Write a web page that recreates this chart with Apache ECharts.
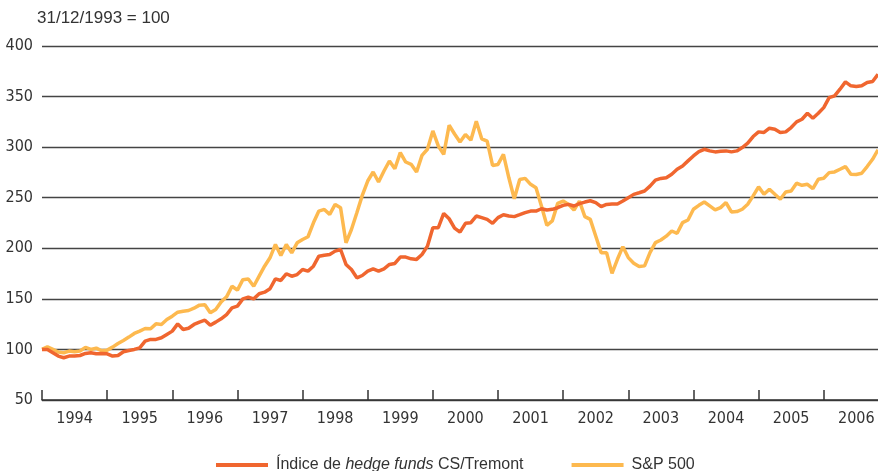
<!DOCTYPE html>
<html>
<head>
<meta charset="utf-8">
<script src="https://cdn.jsdelivr.net/npm/echarts@6/dist/echarts.min.js"></script>
<style>
html,body{margin:0;padding:0;background:#fff;}
#chart{width:878px;height:471px;}
</style>
</head>
<body>
<div id="chart"></div>
<script>
const yearLabels = ['1994','1995','1996','1997','1998','1999','2000','2001','2002','2003','2004','2005','2006'];
const hedgeName = 'Índice de hedge funds CS/Tremont';
const spName = 'S&P 500';
const yTitle = '31/12/1993 = 100';

const hedge = [100,100,96.7,93.4,91.8,93.4,93.4,94,96,96.7,95.7,96,95.7,93.4,94,97.7,99,100,101.6,108.2,109.9,109.9,111.5,114.8,118.1,125.3,119.7,121,124.7,127,128.9,124,127,130.3,134.5,141.1,142.8,150,151.6,150,155,156.6,160,169.8,168.2,174.8,172.4,174,179,177.4,182.3,192.2,193.2,193.9,197.2,198.8,184,179,170.8,173.1,177.4,179.7,177.4,179.7,184,185,191.3,191.3,189.6,189,193.9,202.1,220.3,220.3,234.5,229.2,220,216,224.7,225.3,231.9,230.3,228.6,224.7,230.3,233.2,231.9,231.3,233.2,235.2,236.8,236.8,239.1,237.8,238.5,240.1,242.4,243.4,241.8,244.1,245.7,247,245.1,241.1,243.4,243.8,243.8,246.7,250,253.3,254.9,256.6,261.5,267.4,269.1,269.8,273.2,278.1,281.4,286.4,291.3,295.6,297.9,296.3,295.3,295.9,296.3,295.3,296.3,299.6,303.9,310.5,315.1,314.5,318.7,317.7,314.4,315.1,319.4,325,327.6,333.5,328.6,333.5,339.1,349,350.7,357.3,364.5,360.6,359.9,360.6,363.9,364.9,372.1];

const sp500 = [100,102.6,100,97.4,96.7,98.4,97.7,98.4,102,100,101.3,98.7,99.3,102.3,105.9,108.9,112.2,115.8,118.1,120.7,120.4,125.3,124.7,129.6,132.9,136.8,137.8,138.5,140.8,143.8,144.1,136.2,139.5,147,152,162.5,158.6,169,169.7,162.5,172.4,182.3,190.6,203.8,192.9,203.8,195.5,205.4,208.7,211.4,225.2,236.8,238.4,233.5,243.4,240.1,205.4,218.6,235.1,252.3,266.5,275.4,265.5,276.4,286.3,278.7,294.6,285.3,283,275.4,291.9,297.9,316,301.2,292.9,321.6,313,305,312.5,306.9,325.7,308.2,305.9,281.9,282.9,292.8,269.7,249,268.1,269.1,263.2,259.9,241.8,222.7,227,244.4,246.7,243.4,237.8,246.7,231.3,228.6,212.2,195.7,195.7,175.3,189.1,201.6,190.8,185.2,181.9,182.6,195.7,205.6,208.2,212,217.1,214.8,225.4,228,238.6,242.5,245.8,241.9,237.9,240.2,245.2,235.9,236.3,238.6,243.5,251.8,260.7,253.4,258.4,253.4,248.5,255.7,256.7,264.3,262.3,263.3,259,268.2,269.2,274.8,275.5,278.1,280.8,273.2,272.9,274.2,280.8,288,297.3];

// month categories: index 0 = Dec 1993
const months = [];
for (let i = 0; i < hedge.length; i++) {
  const m = (11 + i) % 12;
  const y = 1993 + Math.floor((11 + i) / 12);
  months.push(y + '-' + String(m + 1).padStart(2, '0'));
}

const narrow = "'Liberation Sans Narrow', 'DejaVu Sans Condensed', sans-serif";
const regular = "'Liberation Sans', Arial, sans-serif";

const chart = echarts.init(document.getElementById('chart'), null, {renderer: 'canvas'});
chart.setOption({
  animation: false,
  backgroundColor: '#ffffff',
  grid: {left: 42, right: 0, top: 46, bottom: 71, containLabel: false},
  title: {
    text: yTitle, left: 32, top: 5,
    textStyle: {fontFamily: regular, fontSize: 17, fontWeight: 'normal', color: '#333'}
  },
  legend: {
    data: [hedgeName, spName],
    left: 211, top: 452,
    icon: 'rect', itemWidth: 52, itemHeight: 4, itemGap: 48,
    textStyle: {fontFamily: regular, fontSize: 16, color: '#333', padding: [0, 0, 0, 3],
      rich: {
        n: {fontFamily: regular, fontSize: 16, color: '#333'},
        i: {fontFamily: regular, fontSize: 16, color: '#333', fontStyle: 'italic'}
      }
    },
    formatter: function (name) {
      if (name === hedgeName) return '{n|Índice de }{i|hedge funds}{n| CS/Tremont}';
      return '{n|' + name + '}';
    }
  },
  xAxis: {
    type: 'category',
    data: months,
    boundaryGap: false,
    axisLine: {show: true, lineStyle: {color: '#333', width: 1.5}},
    axisTick: {show: true, inside: true, length: 10, lineStyle: {color: '#333', width: 1.5},
      interval: function (idx) { return idx % 12 === 0; }},
    axisLabel: {
      interval: function (idx) { return idx % 12 === 6; },
      formatter: function (v) { return yearLabels[yearLabels.indexOf(v.slice(0, 4))]; },
      fontFamily: narrow, fontSize: 16, color: '#333', margin: 11
    },
    splitLine: {show: false}
  },
  yAxis: {
    type: 'value', min: 50, max: 400, interval: 50,
    axisLine: {show: false}, axisTick: {show: false},
    axisLabel: {fontFamily: narrow, fontSize: 16, color: '#333', margin: 9},
    splitLine: {show: true, lineStyle: {color: '#444', width: 1.4}}
  },
  series: [
    {name: hedgeName, type: 'line', data: hedge, showSymbol: false, symbol: 'none',
     lineStyle: {color: '#F0662F', width: 3.5}, itemStyle: {color: '#F0662F'}, z: 3},
    {name: spName, type: 'line', data: sp500, showSymbol: false, symbol: 'none',
     lineStyle: {color: '#FDB94F', width: 3.5}, itemStyle: {color: '#FDB94F'}, z: 2}
  ]
});
</script>
</body>
</html>
